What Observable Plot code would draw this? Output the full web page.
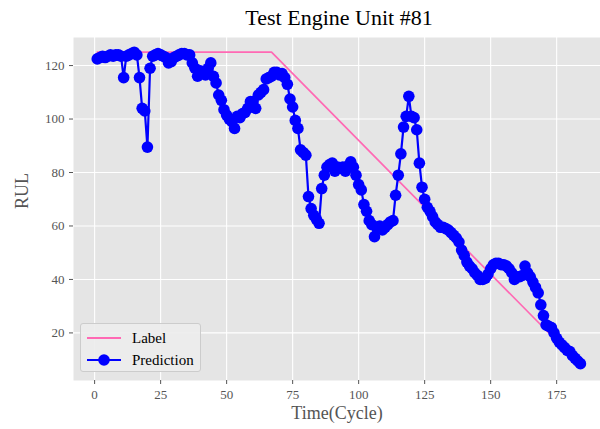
<!DOCTYPE html>
<html>
<head>
<meta charset="utf-8">
<script src="https://cdn.jsdelivr.net/npm/d3@7"></script>
<script src="https://cdn.jsdelivr.net/npm/@observablehq/plot@0.6"></script>
<style>
  body { margin: 0; background: #fff; }
  #wrap { position: relative; width: 600px; height: 429px; overflow: hidden; font-family: "Liberation Serif", "Times New Roman", serif; }
  #title { position: absolute; top: 5px; left: 339px; transform: translateX(-50%); font-size: 22px; white-space: nowrap; color: #000; }
  #chart { position: absolute; top: 36px; left: 0; }
  #legend { position: absolute; left: 80px; top: 323px; width: 121px; height: 49px; box-sizing: border-box;
            background: rgba(236,236,236,0.9); border: 1px solid #cccccc; border-radius: 3px; padding: 3px 0 0 5px; }
  .row { display: flex; align-items: center; height: 22px; font-size: 15px; color: #000; }
  .row svg { margin-right: 10px; }
</style>
</head>
<body>
<div id="wrap">
  <div id="title">Test Engine Unit #81</div>
  <div id="chart"></div>
  <div id="legend"></div>
</div>
<script>
// ---- data ----
const chartTitle = "Test Engine Unit #81";
const xLabel = "Time(Cycle)";
const yLabel = "RUL";
const seriesNames = ["Label", "Prediction"];

// true RUL label (piecewise: capped at 125, then linear decline)
const labelCycles = [1, 67, 184];
const labelRUL = [125, 125, 8];

// predicted RUL, one value per cycle starting at cycle 1
const firstCycle = 1;
const predictedRUL = [
  122.5, 123, 123.5, 123, 123.5, 124, 123.5, 124, 124, 123.5,
  115.5, 123.5, 124, 124.5, 125, 124, 115.5, 104, 103, 89.5,
  119, 123.5, 124, 124.5, 124, 123.5, 123, 121, 121.5, 123,
  123.5, 124, 124.5, 124.5, 124, 124, 121, 119, 116, 118,
  117, 116.5, 119, 121, 116, 113.5, 109, 107, 103.5, 101.5,
  100, 99, 96.5, 101, 100.5, 102, 102.5, 104, 106.5, 106.5,
  104, 109, 110, 111, 115, 115.5, 116, 117.5, 117.5, 116.5,
  117, 115.5, 113, 107.5, 104.5, 99.5, 96.5, 88.5, 87.5, 86.5,
  71, 66.5, 64, 62.5, 61, 74, 79, 82, 83, 83.5,
  80.5, 82, 81.5, 82, 80.5, 82.5, 84, 82, 79, 75.5,
  73.5, 68, 65.5, 62, 60.5, 56, 59.5, 60, 58.5, 59.5,
  60.5, 61.5, 62, 71.5, 79, 87, 97, 101, 108.5, 101,
  100.5, 96, 83.5, 74.5, 70, 67, 65.5, 63.5, 61.5, 60.5,
  59.5, 59.5, 59, 58.5, 57.5, 56.5, 55.5, 54, 51, 49,
  46.5, 45, 44, 42.5, 41.5, 40, 40, 40.5, 42, 44,
  45.5, 46, 46, 45.5, 45.5, 45, 44, 42.5, 40, 41,
  41, 41.5, 45, 42.5, 41, 39, 37, 35, 30.5, 26.5,
  23, 22.5, 22, 20, 18, 16.5, 15.5, 14.5, 13.5, 13,
  11.5, 10.5, 9.5, 8.5
];

const xTicks = [0, 25, 50, 75, 100, 125, 150, 175];
const yTicks = [20, 40, 60, 80, 100, 120];

// ---- build tables ----
const labelData = labelCycles.map((c, i) => ({cycle: c, rul: labelRUL[i]}));
const predData = predictedRUL.map((v, i) => ({cycle: firstCycle + i, rul: v}));

const labelColor = "#ff69b4";
const predColor = "#0000ff";
const font = "Liberation Serif, Times New Roman, serif";

const plot = Plot.plot({
  width: 600,
  height: 393,
  marginTop: 1,
  marginBottom: 49,
  marginLeft: 73,
  marginRight: 0,
  x: {domain: [-8, 191.6]},
  y: {domain: [2.2, 130.5]},
  style: {fontFamily: font, background: "transparent", overflow: "visible"},
  marks: [
    Plot.frame({fill: "#e5e5e5", stroke: "none"}),
    Plot.gridX(xTicks, {stroke: "#ffffff", strokeOpacity: 1, strokeWidth: 1.1}),
    Plot.gridY(yTicks, {stroke: "#ffffff", strokeOpacity: 1, strokeWidth: 1.1}),
    Plot.axisX(xTicks, {tickSize: 4, tickPadding: 5, stroke: "#555", fill: "#555", fontSize: 13, label: null}),
    Plot.axisY(yTicks, {tickSize: 4, tickPadding: 5, stroke: "#555", fill: "#555", fontSize: 13, label: null}),
    Plot.text([xLabel], {frameAnchor: "bottom", dy: 38, fontSize: 18, fill: "#555", fontFamily: font}),
    Plot.text([yLabel], {frameAnchor: "left", dx: -51, rotate: -90, fontSize: 18, fill: "#555", fontFamily: font}),
    Plot.line(labelData, {x: "cycle", y: "rul", stroke: labelColor, strokeWidth: 1.7}),
    Plot.line(predData, {x: "cycle", y: "rul", stroke: predColor, strokeWidth: 2.2}),
    Plot.dot(predData, {x: "cycle", y: "rul", r: 5.8, fill: predColor, stroke: "none"})
  ]
});
document.getElementById("chart").appendChild(plot);
document.getElementById("title").textContent = chartTitle;

// ---- legend ----
const legend = document.getElementById("legend");
legend.innerHTML = `
  <div class="row"><svg width="36" height="12"><line x1="1" x2="35" y1="6" y2="6" stroke="${labelColor}" stroke-width="1.8"/></svg><span>${seriesNames[0]}</span></div>
  <div class="row"><svg width="36" height="12"><line x1="1" x2="35" y1="6" y2="6" stroke="${predColor}" stroke-width="2.2"/><circle cx="18" cy="6" r="5.8" fill="${predColor}"/></svg><span>${seriesNames[1]}</span></div>`;
</script>
</body>
</html>
